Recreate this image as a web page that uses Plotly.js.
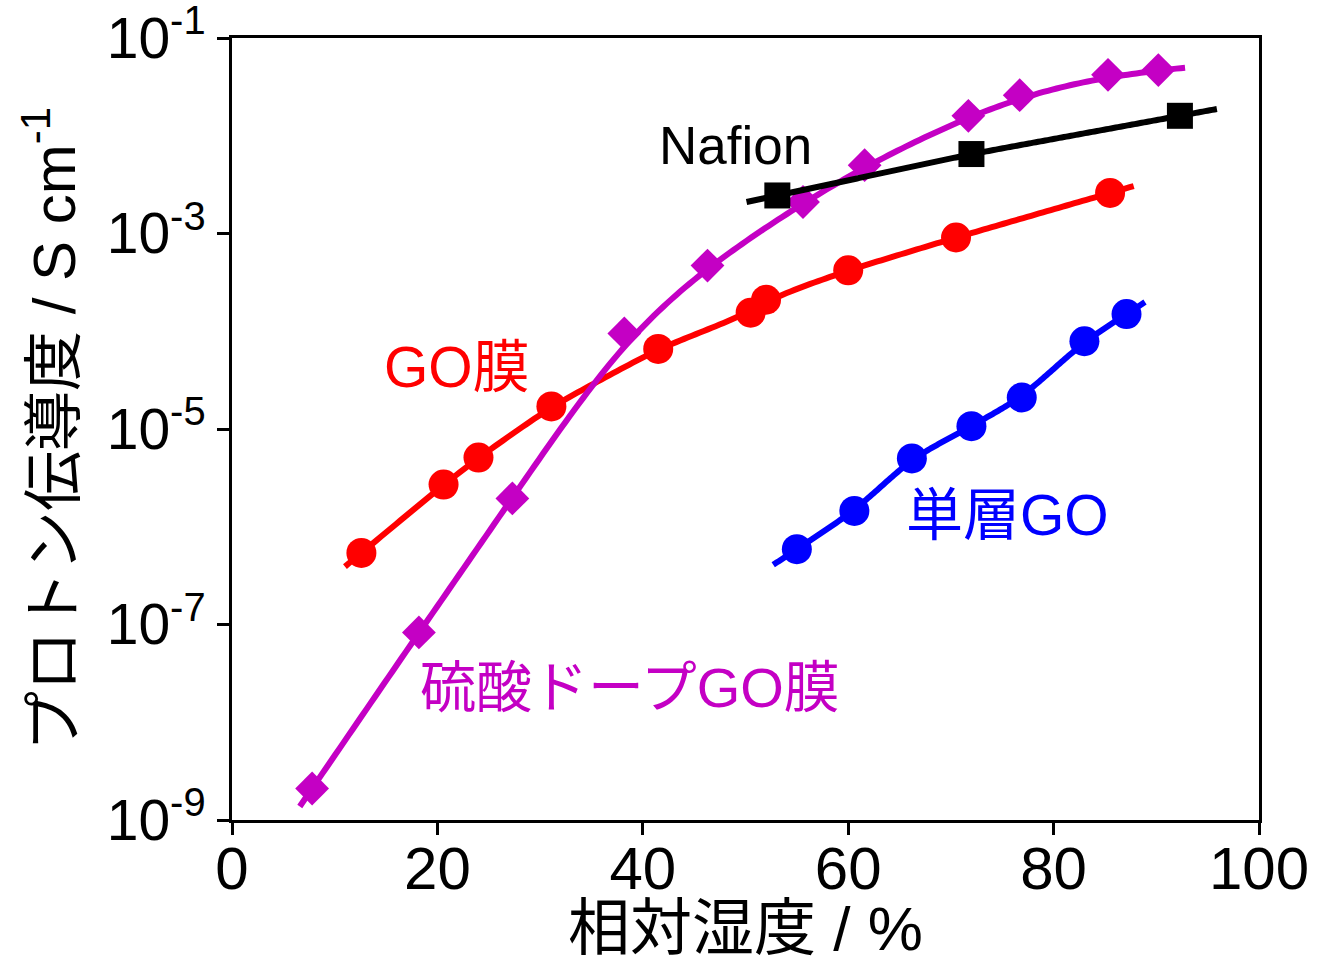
<!DOCTYPE html>
<html>
<head>
<meta charset="utf-8">
<script src="https://cdn.plot.ly/plotly-3.0.1.min.js"></script>
<style>
  html, body { margin: 0; padding: 0; background: #fff; }
  #chart { width: 1330px; height: 963px; }
</style>
</head>
<body>
<div id="chart"></div>
<script>
// Relative humidity (%) and proton conductivity (S/cm) for each membrane
const rhGO = [12.6, 20.6, 24.0, 31.1, 41.5, 50.5, 52.0, 60.0, 70.5, 85.5];
const sigmaGO = [5.4e-7, 2.7e-6, 5.1e-6, 1.7e-5, 6.6e-5, 1.55e-4, 2.1e-4, 4.2e-4, 9.1e-4, 2.6e-3];

const rhSulf = [7.8, 18.2, 27.3, 38.2, 46.3, 55.6, 61.6, 71.7, 76.7, 85.3, 90.2];
const sigmaSulf = [2.1e-9, 8.3e-8, 1.95e-6, 9.5e-5, 4.7e-4, 2.1e-3, 5.0e-3, 1.6e-2, 2.6e-2, 4.2e-2, 4.7e-2];

const rhSingle = [55.0, 60.6, 66.2, 72.0, 76.9, 83.0, 87.1];
const sigmaSingle = [5.9e-7, 1.45e-6, 5.0e-6, 1.07e-5, 2.1e-5, 7.9e-5, 1.5e-4];

const rhNafion = [53.1, 72.0, 92.3];
const sigmaNafion = [2.45e-3, 6.5e-3, 1.6e-2];

// Humidity span covered by each fitted curve
const fitGO = [11.0, 87.8];
const fitSulf = [6.6, 92.8];
const fitSingle = [52.7, 88.9];
const fitNafion = [50.1, 95.9];

const yTickVals = [1e-9, 1e-7, 1e-5, 1e-3, 1e-1];
const yTickText = ['10<sup>-9</sup>', '10<sup>-7</sup>', '10<sup>-5</sup>', '10<sup>-3</sup>', '10<sup>-1</sup>'];
const xTickVals = [0, 20, 40, 60, 80, 100];

const FONT = 'Liberation Sans, Arial, Noto Sans CJK JP, sans-serif';

// Smoothed trend line: the point-to-point polyline in log10(sigma), continued past
// the ends along the end segments, convolved with a Gaussian of width `sw` (% RH).
function trendCurve(xs, ys, span, sw) {
  const ly = ys.map(v => Math.log10(v));
  const n = xs.length;
  const s0 = (ly[1] - ly[0]) / (xs[1] - xs[0]);
  const s1 = (ly[n - 1] - ly[n - 2]) / (xs[n - 1] - xs[n - 2]);
  function poly(x) {
    if (x <= xs[0]) return ly[0] + s0 * (x - xs[0]);
    if (x >= xs[n - 1]) return ly[n - 1] + s1 * (x - xs[n - 1]);
    let i = 0;
    while (x > xs[i + 1]) i++;
    const t = (x - xs[i]) / (xs[i + 1] - xs[i]);
    return ly[i] + t * (ly[i + 1] - ly[i]);
  }
  const outX = [], outY = [];
  const steps = 200, kn = 60;
  for (let k = 0; k <= steps; k++) {
    const x = span[0] + (span[1] - span[0]) * k / steps;
    let acc = 0, wsum = 0;
    for (let j = -kn; j <= kn; j++) {
      const t = 3 * sw * j / kn;
      const w = Math.exp(-0.5 * (t / sw) * (t / sw));
      acc += w * poly(x + t);
      wsum += w;
    }
    outX.push(x);
    outY.push(Math.pow(10, acc / wsum));
  }
  return { x: outX, y: outY };
}

function series(xs, ys, span, sw, color, symbol, size) {
  const c = trendCurve(xs, ys, span, sw);
  return [
    { x: c.x, y: c.y, mode: 'lines', type: 'scatter', hoverinfo: 'skip',
      line: { color: color, width: 6, simplify: false } },
    { x: xs, y: ys, mode: 'markers', type: 'scatter',
      marker: { color: color, symbol: symbol, size: size, line: { width: 0 } } }
  ];
}

const traces = [].concat(
  series(rhGO, sigmaGO, fitGO, 2, '#ff0000', 'circle', 30),
  series(rhSingle, sigmaSingle, fitSingle, 1.5, '#0000ff', 'circle', 30),
  series(rhSulf, sigmaSulf, fitSulf, 5, '#c400c4', 'diamond', 26),
  series(rhNafion, sigmaNafion, fitNafion, 2, '#000000', 'square', 26)
);

const layout = {
  width: 1330, height: 963,
  margin: { l: 232, r: 71, t: 38, b: 143 },
  paper_bgcolor: '#ffffff', plot_bgcolor: '#ffffff',
  showlegend: false,
  font: { family: FONT, color: '#000' },
  xaxis: {
    range: [0, 100], tickvals: xTickVals, ticks: 'outside', ticklen: 12, tickwidth: 3,
    tickcolor: '#000', showline: true, linewidth: 3, linecolor: '#000', mirror: true,
    showgrid: false, zeroline: false, ticklabelstandoff: -18,
    tickfont: { family: FONT, size: 60, color: '#000' },
    title: { text: '相対湿度 / %', font: { family: FONT, size: 62, color: '#000' }, standoff: 16 }
  },
  yaxis: {
    type: 'log', range: [-9, -1], tickvals: yTickVals, ticktext: yTickText,
    ticks: 'outside', ticklen: 12, tickwidth: 3, tickcolor: '#000',
    showline: true, linewidth: 3, linecolor: '#000', mirror: true,
    showgrid: false, zeroline: false, ticklabeloverflow: 'allow',
    tickfont: { family: FONT, size: 57, color: '#000' },
    title: { text: 'プロトン伝導度 / S cm<sup>-1</sup>', font: { family: FONT, size: 60, color: '#000' }, standoff: 12 }
  },
  annotations: [
    { x: 49.0, y: -2.095, xref: 'x', yref: 'y', text: 'Nafion', showarrow: false,
      font: { family: FONT, size: 53, color: '#000' } },
    { x: 21.9, y: -4.37, xref: 'x', yref: 'y', text: 'GO膜', showarrow: false,
      font: { family: FONT, size: 57, color: '#ff0000' } },
    { x: 75.5, y: -5.88, xref: 'x', yref: 'y', text: '単層GO', showarrow: false,
      font: { family: FONT, size: 57, color: '#0000ff' } },
    { x: 38.75, y: -7.64, xref: 'x', yref: 'y', text: '硫酸ドープGO膜', showarrow: false,
      font: { family: FONT, size: 56, color: '#c400c4' } }
  ]
};

Plotly.newPlot('chart', traces, layout, { staticPlot: true, displayModeBar: false });
</script>
</body>
</html>
